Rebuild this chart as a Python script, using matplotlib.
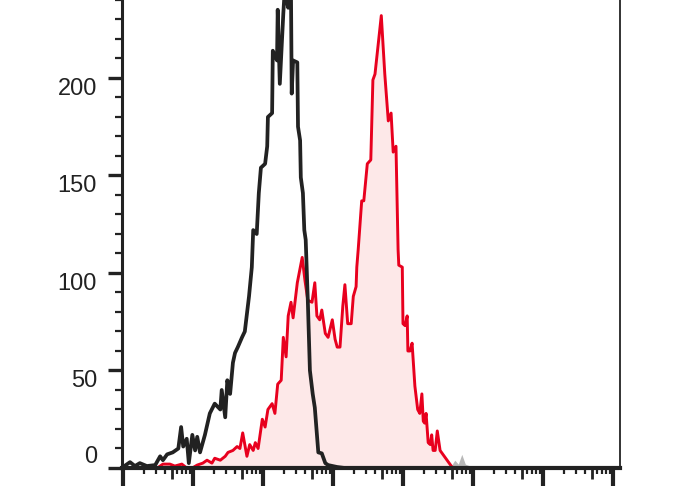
import matplotlib
matplotlib.use("Agg")
import matplotlib.pyplot as plt
import numpy as np
from matplotlib.ticker import LogLocator, MultipleLocator, NullFormatter

plt.rcParams['font.family'] = ['Liberation Sans', 'DejaVu Sans']

# histogram data, x as log10 of intensity, y as counts
black_logx = [0.00, 0.10, 0.17, 0.24, 0.34, 0.46, 0.53, 0.57, 0.63, 0.71, 0.79, 0.83, 0.86,
              0.91, 0.94, 0.99, 1.03, 1.06, 1.10, 1.17, 1.24, 1.31, 1.39, 1.41, 1.46, 1.49,
              1.53, 1.57, 1.60, 1.64, 1.70, 1.74, 1.77, 1.80, 1.84, 1.86, 1.91, 1.94, 1.97,
              2.03, 2.06, 2.07, 2.13, 2.14, 2.20, 2.21, 2.24, 2.29, 2.31, 2.36, 2.40, 2.41,
              2.43, 2.49, 2.50, 2.53, 2.54, 2.57, 2.59, 2.61, 2.64, 2.67, 2.71, 2.74, 2.79,
              2.84, 2.89, 2.93, 3.06, 3.17, 7.10]
black_count = [0.5, 3, 1, 2.5, 1, 1.5, 6, 4, 7, 8, 10, 21, 11,
               15, 2.5, 17, 9, 16, 8, 17, 28, 33, 30, 40, 26, 45,
               38, 54, 59, 62, 67, 70, 79, 88, 103, 122, 120, 141, 154,
               156, 165, 180, 182, 214, 209, 235, 197, 233, 245, 236, 243, 192,
               209, 208, 175, 168, 149, 141, 122, 117, 86, 50, 38, 31, 8,
               7.5, 2.5, 1.5, 0.5, 0, 0]

red_logx = [0.49, 0.57, 0.67, 0.74, 0.84, 0.91, 0.99, 1.06, 1.14, 1.20, 1.27, 1.31, 1.39,
            1.46, 1.50, 1.57, 1.63, 1.67, 1.71, 1.77, 1.81, 1.86, 1.89, 1.93, 1.99, 2.03,
            2.07, 2.13, 2.17, 2.21, 2.26, 2.29, 2.33, 2.36, 2.40, 2.43, 2.49, 2.56, 2.60,
            2.64, 2.70, 2.74, 2.77, 2.81, 2.84, 2.89, 2.93, 2.99, 3.03, 3.06, 3.10, 3.14,
            3.17, 3.21, 3.26, 3.29, 3.33, 3.34, 3.36, 3.41, 3.44, 3.49, 3.54, 3.57, 3.60,
            3.69, 3.74, 3.79, 3.83, 3.86, 3.90, 3.93, 3.94, 3.99, 4.00, 4.03, 4.06, 4.07,
            4.10, 4.13, 4.17, 4.21, 4.24, 4.27, 4.29, 4.31, 4.33, 4.36, 4.39, 4.41, 4.43,
            4.46, 4.49, 4.53, 4.56, 4.63, 4.70, 4.74]
red_count = [0, 2, 2, 1, 2, 0, 0, 1.5, 2.5, 4, 2.5, 5, 4,
             6, 8, 9, 11, 10, 18, 6, 12, 9, 13, 10, 25, 21,
             30, 33, 28, 43, 45, 67, 57, 78, 85, 77, 95, 108, 96,
             86, 85, 95, 78, 76, 81, 69, 67, 76, 66, 62, 62, 83,
             94, 74, 74, 88, 93, 103, 112, 137, 137, 156, 158, 199, 202,
             232, 202, 178, 182, 162, 165, 112, 104, 103, 74, 73, 78, 60,
             60, 64, 42, 30, 28, 38, 24, 23, 28, 13, 12, 17, 9,
             9, 19, 9, 7.5, 4, 0.5, 0]

gray_logx = [4.67, 4.74, 4.79, 4.84, 4.89, 4.96, 5.04]
gray_count = [0, 4, 2, 7, 2, 1, 0]

yticks = [0, 50, 100, 150, 200]

fig = plt.figure(figsize=(6.88, 4.9), dpi=100)
ax = fig.add_axes([0.1773, 0.0449, 0.7238, 0.9551])

bx = 10 ** np.array(black_logx)
rx = 10 ** np.array(red_logx)
gx = 10 ** np.array(gray_logx)

ax.fill_between(gx, gray_count, color='#b8b8b8', lw=0)
ax.fill_between(rx, red_count, color='#fde8e8', lw=0)
ax.plot(rx, red_count, color='#e8001e', lw=2.1)
ax.plot(bx, black_count, color='#222222', lw=2.7)

ax.set_xscale('log')
ax.set_xlim(10 ** -0.015, 10 ** 7.1)
ax.set_ylim(0, 240)

ax.set_yticks(yticks)
ax.yaxis.set_minor_locator(MultipleLocator(10))
ax.xaxis.set_major_locator(LogLocator(base=10, numticks=20))
ax.xaxis.set_minor_locator(LogLocator(base=10, subs=[2, 3, 4, 6, 7, 8, 9], numticks=20))
ax.xaxis.set_major_formatter(NullFormatter())
ax.xaxis.set_minor_formatter(NullFormatter())

ax.tick_params(axis='y', which='major', direction='out', length=10, width=2.4,
               labelsize=17, pad=8, colors='#222222')
ax.tick_params(axis='y', which='minor', direction='out', length=5, width=1.6, colors='#222222')
ax.tick_params(axis='x', which='major', direction='out', length=13, width=3.0, colors='#222222')
ax.tick_params(axis='x', which='minor', direction='out', length=4.5, width=1.6, colors='#222222')

# labels sit below their ticks, except 0 which sits above the baseline
for val, tick in zip(yticks, ax.yaxis.get_major_ticks()):
    tick.label1.set_va('bottom' if val == 0 else 'top')

# the longer ticks at 5 x 10^k
sec = ax.secondary_xaxis('bottom')
sec.set_xscale('log')
sec.set_xticks([5 * 10 ** k for k in range(7)])
sec.xaxis.set_minor_locator(plt.NullLocator())
sec.xaxis.set_major_formatter(NullFormatter())
sec.tick_params(axis='x', direction='out', length=8, width=2.0, colors='#222222')
sec.spines['bottom'].set_visible(False)

ax.spines['top'].set_visible(False)
ax.spines['left'].set_linewidth(2.2)
ax.spines['left'].set_color('#222222')
ax.spines['bottom'].set_linewidth(3.0)
ax.spines['bottom'].set_color('#222222')
ax.spines['right'].set_linewidth(1.4)
ax.spines['right'].set_color('#333333')

fig.savefig('out.png', dpi=100)
